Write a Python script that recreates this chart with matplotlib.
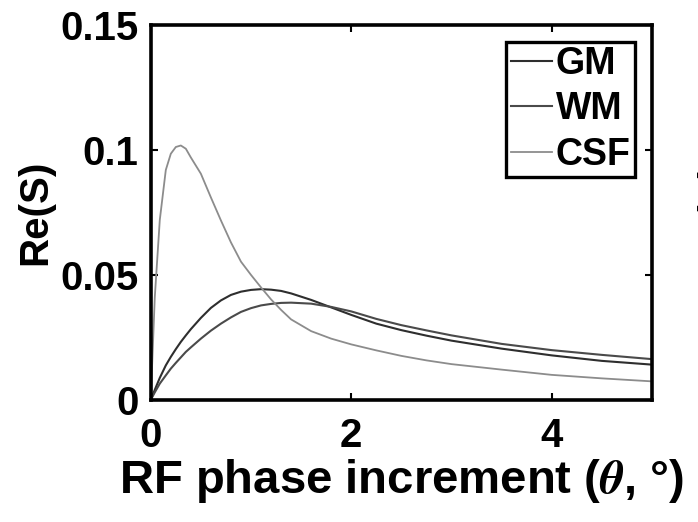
import matplotlib
matplotlib.use("Agg")
import matplotlib.pyplot as plt

# ---------------------------------------------------------------------------
# Data (Re(S) vs RF phase increment)
# ---------------------------------------------------------------------------
theta = [0, 0.04, 0.09, 0.15, 0.2, 0.25, 0.3, 0.35, 0.4, 0.5, 0.6, 0.7, 0.8,
         0.9, 1.0, 1.1, 1.2, 1.3, 1.4, 1.6, 1.8, 2.0, 2.25, 2.5, 2.75, 3.0,
         3.5, 4.0, 4.5, 5.0]

re_gm = [0, 0.0040, 0.0088, 0.0138, 0.0172, 0.0203, 0.0232, 0.0258, 0.0283,
         0.0328, 0.0368, 0.0398, 0.0420, 0.0433, 0.0440, 0.0443, 0.0441,
         0.0436, 0.0426, 0.0400, 0.0370, 0.0340, 0.0305, 0.0279, 0.0257,
         0.0237, 0.0205, 0.0178, 0.0156, 0.0141]

re_wm = [0, 0.0030, 0.0065, 0.0098, 0.0125, 0.0148, 0.0170, 0.0192, 0.0210,
         0.0245, 0.0277, 0.0305, 0.0330, 0.0352, 0.0367, 0.0378, 0.0384,
         0.0388, 0.0389, 0.0385, 0.0372, 0.0354, 0.0324, 0.0299, 0.0278,
         0.0258, 0.0224, 0.0199, 0.0180, 0.0163]

re_csf = [0, 0.0410, 0.0720, 0.0920, 0.0985, 0.1012, 0.1018, 0.1005, 0.0970,
          0.0905, 0.0810, 0.0718, 0.0630, 0.0553, 0.0500, 0.0450, 0.0402,
          0.0360, 0.0322, 0.0275, 0.0245, 0.0222, 0.0198, 0.0176, 0.0158,
          0.0143, 0.0121, 0.0100, 0.0086, 0.0074]

labels = ["GM", "WM", "CSF"]
xticks = [0, 2, 4]
yticks = [0, 0.05, 0.1, 0.15]
ytick_labels = ["0", "0.05", "0.1", "0.15"]

# ---------------------------------------------------------------------------
# Figure
# ---------------------------------------------------------------------------
plt.rcParams["font.family"] = ["Liberation Sans", "DejaVu Sans"]
plt.rcParams["font.weight"] = "bold"
plt.rcParams["mathtext.fontset"] = "stix"

fig = plt.figure(figsize=(6.98, 5.22), dpi=100)
ax = fig.add_axes([0.216, 0.234, 0.718, 0.718])

ax.plot(theta, re_gm, color="#2e2e2e", linewidth=1.5, label=labels[0])
ax.plot(theta, re_wm, color="#4a4a4a", linewidth=1.5, label=labels[1])
ax.plot(theta, re_csf, color="#8c8c8c", linewidth=1.3, label=labels[2])

ax.set_xlim(0, 5)
ax.set_ylim(0, 0.15)
ax.set_xticks(xticks)
ax.set_yticks(yticks)
ax.set_yticklabels(ytick_labels)
ax.tick_params(direction="in", length=5, width=1.5, top=True, right=True,
               labelsize=29)
ax.tick_params(axis="x", pad=12)
ax.tick_params(axis="y", pad=9)
for lab in ax.get_xticklabels() + ax.get_yticklabels():
    lab.set_fontweight("bold")
for sp in ax.spines.values():
    sp.set_linewidth(2.6)

ax.set_xlabel(r"RF phase increment ($\theta$, °)", fontsize=34,
              fontweight="bold", labelpad=2)
ax.set_ylabel("Re(S)", fontsize=29, fontweight="bold", labelpad=4)

leg = ax.legend(loc="upper right", bbox_to_anchor=(0.966, 0.956),
                fontsize=27, handlelength=1.1, handletextpad=0.1,
                borderpad=0.12, labelspacing=0.25, borderaxespad=0,
                fancybox=False, edgecolor="black", framealpha=1)
leg.get_frame().set_linewidth(2.4)
for t in leg.get_texts():
    t.set_fontweight("bold")

# ylabel of the neighbouring panel, cut off by the right edge
fig.text(714 / 698, 1 - 212 / 522, "Im(S)", rotation=90, fontsize=29,
         fontweight="bold", ha="center", va="center")

fig.savefig("out.png", dpi=100)
